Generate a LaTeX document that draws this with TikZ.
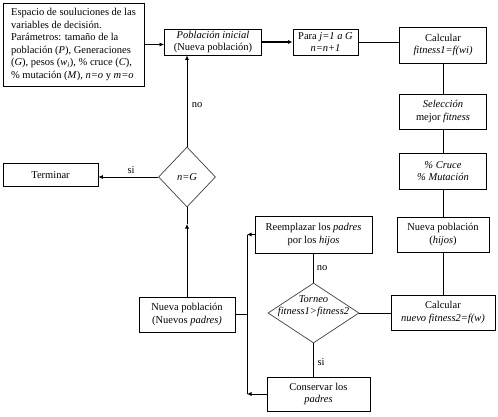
\documentclass[tikz,border=0pt]{standalone}
\usepackage{fontspec}
\setmainfont{Liberation Serif}
\usetikzlibrary{shapes.geometric,arrows.meta}
\begin{document}
\begin{tikzpicture}[x=1pt,y=-1pt,
 txt/.style={font=\fontsize{10.5}{12.5}\selectfont},
 box/.style={draw,line width=0.8pt,inner sep=1pt,align=center,txt},
 dia/.style={draw=black!75,line width=0.7pt,shape=diamond,inner sep=0pt},
 lbl/.style={txt,inner sep=0pt,align=center},
 arr/.style={-{Latex[length=4.5pt,width=4pt]}},
 ln/.style={line width=0.7pt}]
\useasboundingbox[fill=white] (0,0) rectangle (498,417);

\node[box,minimum width=141pt,minimum height=83pt,align=left] (params) at (73.5,44.5)
 {Espacio de souluciones de las\\variables de decisión.\\Parámetros: tamaño de la\\población (\textit{P}), Generaciones\\(\textit{G}), pesos (\textit{w}\textsubscript{\textit{i}}), \% cruce (\textit{C}),\\\% mutación (\textit{M}), \textit{n=o} y \textit{m=o}};
\node[box,minimum width=97pt,minimum height=26pt] (pob) at (213,42) {\textit{Población inicial}\\(Nueva población)};
\node[box,minimum width=65pt,minimum height=26pt] (para) at (325.5,42) {Para \textit{j=1 a G}\\\textit{n=n+1}};
\node[box,minimum width=87pt,minimum height=36pt] (calc1) at (443,45) {Calcular\\\textit{fitness1=f(wi)}};
\node[box,minimum width=87pt,minimum height=35pt] (sel) at (443,111.5) {\textit{Selección}\\mejor \textit{fitness}};
\node[box,minimum width=87pt,minimum height=36pt] (cruce) at (443,171) {\textit{\% Cruce}\\\textit{\% Mutación}};
\node[box,minimum width=92pt,minimum height=35pt] (hijos) at (443,234.5) {Nueva población\\(\textit{hijos})};
\node[box,minimum width=104pt,minimum height=35pt] (calc2) at (443,312.5) {Calcular\\\textit{nuevo fitness2=f(w)}};
\node[box,minimum width=95pt,minimum height=23pt] (term) at (50.5,175) {Terminar};
\node[box,minimum width=96pt,minimum height=35pt] (npad) at (187,314.5) {Nueva población\\(Nuevos \textit{padres)}};
\node[box,minimum width=117pt,minimum height=37pt] (reem) at (313.5,234.5) {Reemplazar los \textit{padres}\\por los \textit{hijos}};
\node[box,minimum width=103pt,minimum height=34pt] (cons) at (318.5,394) {Conservar los\\\textit{padres}};

\node[dia,minimum width=57pt,minimum height=60pt] (ng) at (187,177) {};
\node[lbl] (ngtxt) at (187,177) {\textit{n=G}};
\node[dia,minimum width=91pt,minimum height=60pt] (tor) at (313.5,313) {};
\node[lbl,font=\fontsize{10.5}{12.5}\selectfont\itshape] (tortxt) at (313.5,306) {Torneo\\fitness1>fitness2};

\draw[ln,arr] (params.east) -- (params.east -| pob.west);
\draw[line width=1.3pt,arr] (pob.east) -- (para.west);
\draw[ln] (para.east) -- (para.east -| calc1.west);
\draw[ln] (calc1.south) -- (sel.north);
\draw[ln] (sel.south) -- (cruce.north);
\draw[ln] (cruce.south) -- (hijos.north);
\draw[ln] (hijos.south) -- (calc2.north);
\draw[ln] (tor.east) -- (tor.east -| calc2.west);
\draw[ln] (tor.north) -- (tor.north |- reem.south);
\draw[ln] (tor.south) -- (tor.south |- cons.north);
\node[lbl] (no2) at (322,268) {no};
\node[lbl] (si2) at (321,362) {si};

\coordinate (bt) at (247,234.5);
\coordinate (bb) at (247,394);
\draw[ln] (bt) -- (bb);
\draw[ln,arr] (reem.west) -- (bt);
\draw[ln,arr] (cons.west) -- (bb);
\draw[ln] (npad.east) -- (npad.east -| bt);

\coordinate (m1) at (187,224);
\draw[ln,arr] (npad.north) -- (m1);
\draw[ln] (m1) -- (ng.south);
\draw[ln,arr] (ng.north) -- (ng.north |- pob.south);
\node[lbl] (no1) at (197,105) {no};
\draw[ln,arr] (ng.west) -- (ng.west -| term.east);
\node[lbl] (si1) at (131,170) {si};
\end{tikzpicture}
\end{document}
